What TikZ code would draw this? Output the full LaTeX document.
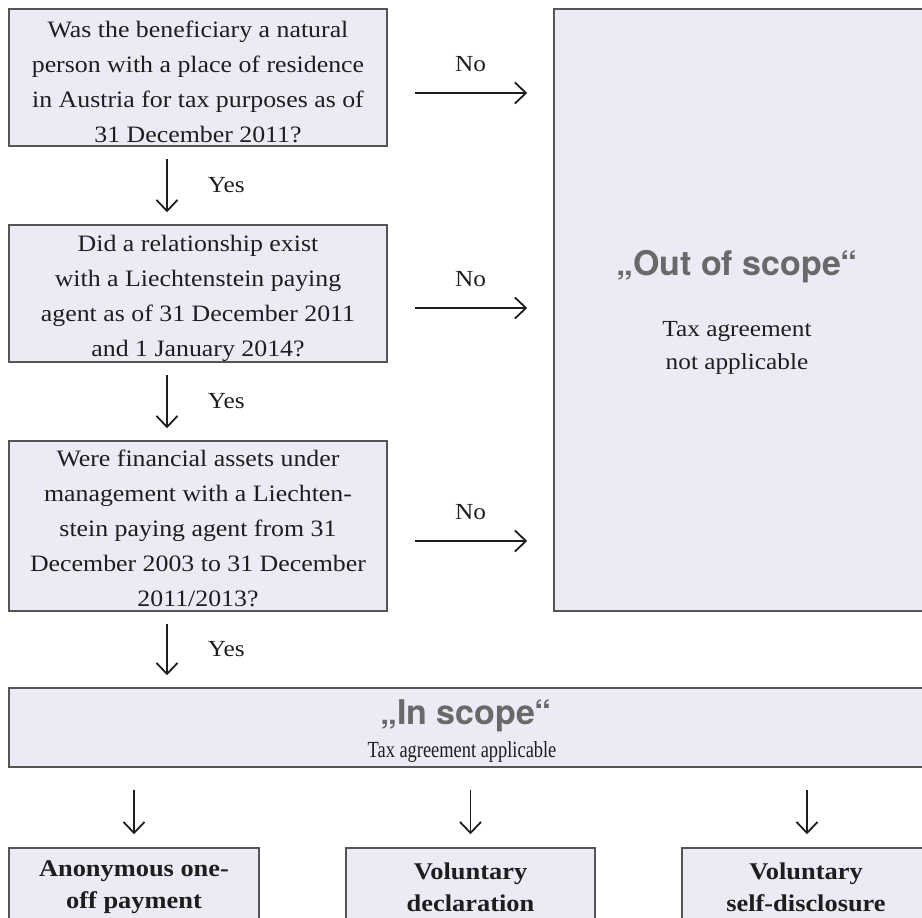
\documentclass[tikz,border=0pt]{standalone}
\usepackage{fontspec}
\setmainfont[FakeStretch=1.1]{Liberation Serif}
\newfontfamily\headfont{TeX Gyre Heros}
\newfontfamily\narrowserif[FakeStretch=0.8]{Liberation Serif}
\usetikzlibrary{arrows.meta}
\definecolor{boxfill}{RGB}{235,235,246}
\definecolor{boxline}{RGB}{85,85,85}
\definecolor{headgrey}{RGB}{105,105,105}
\definecolor{ink}{RGB}{30,30,30}
\tikzset{
  qbox/.style={draw=boxline, line width=1.5pt, fill=boxfill, rectangle, inner sep=0pt},
  qtext/.style={align=center, text=ink, inner sep=0pt, font=\fontsize{23.5}{35}\selectfont},
  arr/.style={draw=ink, line width=1.8pt, -{Straight Barb[length=11pt,width=21pt,line width=1.8pt]}},
  lbl/.style={text=ink, font=\fontsize{23}{28}\selectfont, inner sep=0pt},
  headtxt/.style={text=headgrey, font=\headfont\bfseries\fontsize{34}{40}\selectfont, inner sep=0pt},
  bodytxt/.style={text=ink, font=\fontsize{23}{33}\selectfont, align=center, inner sep=0pt},
  opttxt/.style={text=ink, font=\bfseries\fontsize{24}{32}\selectfont, align=center, inner sep=0pt},
}
\begin{document}
\begin{tikzpicture}[x=1pt,y=-1pt]
\clip (0,0) rectangle (922,918);
\useasboundingbox (0,0) rectangle (922,918);

% question boxes
\node[qbox, minimum width=378, minimum height=137] (q1) at (198,77.5) {};
\node[qtext] (t1) at (198,82) {Was the beneficiary a natural\\person with a place of residence\\in Austria for tax purposes as of\\31 December 2011?};
\node[qbox, minimum width=378, minimum height=137] (q2) at (198,293.5) {};
\node[qtext] (t2) at (198,298.5) {Did a relationship exist\\with a Liechtenstein paying\\agent as of 31 December 2011\\and 1 January 2014?};
\node[qbox, minimum width=378, minimum height=170] (q3) at (198,526) {};
\node[qtext] (t3) at (198,528) {Were financial assets under\\management with a Liechten-\\stein paying agent from 31\\December 2003 to 31 December\\2011/2013?};

% out of scope box
\node[qbox, minimum width=373, minimum height=602] (out) at (740.5,310) {};
\node[headtxt] (outh) at (737,267) {„Out of scope“};
\node[bodytxt] (outt) at (737,348) {Tax agreement\\not applicable};

% in scope box
\node[qbox, minimum width=918, minimum height=79] (in) at (468,727.5) {};
\node[headtxt] (inh) at (466,716) {„In scope“};
\node[lbl, font=\narrowserif\fontsize{23}{28}\selectfont] (int) at (462,752) {Tax agreement applicable};

% bottom boxes
\node[qbox, minimum width=250, minimum height=84] (b1) at (134,890) {};
\node[opttxt] (o1) at (134,887) {Anonymous one-\\off payment};
\node[qbox, minimum width=249, minimum height=84] (b2) at (470.5,890) {};
\node[opttxt] (o2) at (470.5,887) {Voluntary\\declaration};
\node[qbox, minimum width=250, minimum height=84] (b3) at (807,890) {};
\node[opttxt] (o3) at (806,887) {Voluntary\\self-disclosure};

% vertical Yes arrows
\coordinate (col) at (167,0);
\draw[arr, shorten <=12pt, shorten >=12pt] (q1.south -| col) -- node[lbl, right=40pt, midway] (y1) {Yes} (q2.north -| col);
\draw[arr, shorten <=12pt, shorten >=12pt] (q2.south -| col) -- node[lbl, right=40pt, midway] (y2) {Yes} (q3.north -| col);
\draw[arr, shorten <=12pt, shorten >=12pt] (q3.south -| col) -- node[lbl, right=40pt, midway] (y3) {Yes} (in.north -| col);

% horizontal No arrows
\coordinate (r1) at (0,93);
\coordinate (r2) at (0,308);
\coordinate (r3) at (0,541);
\draw[arr, shorten <=27pt, shorten >=26pt] (q1.east |- r1) -- node[lbl, midway, yshift=29pt] (n1) {No} (out.west |- r1);
\draw[arr, shorten <=27pt, shorten >=26pt] (q2.east |- r2) -- node[lbl, midway, yshift=29pt] (n2) {No} (out.west |- r2);
\draw[arr, shorten <=27pt, shorten >=26pt] (q3.east |- r3) -- node[lbl, midway, yshift=29pt] (n3) {No} (out.west |- r3);

% in scope to options
\draw[arr, shorten <=22pt, shorten >=13pt] (in.south -| b1.north) -- (b1.north);
\draw[arr, shorten <=22pt, shorten >=13pt] (in.south -| b2.north) -- (b2.north);
\draw[arr, shorten <=22pt, shorten >=13pt] (in.south -| b3.north) -- (b3.north);
\end{tikzpicture}
\end{document}
